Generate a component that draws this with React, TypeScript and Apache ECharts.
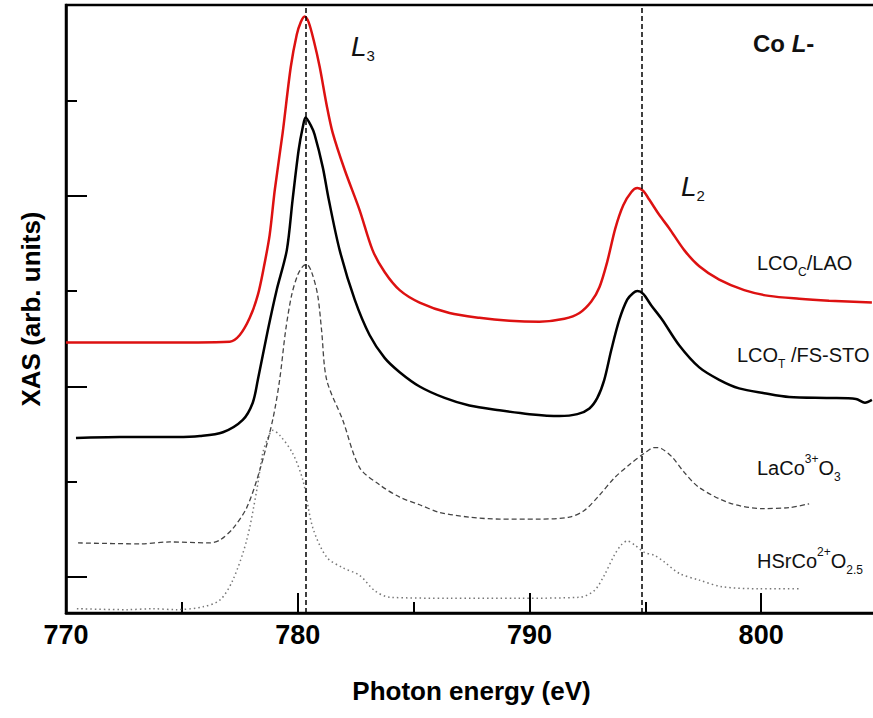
import React, { useEffect, useRef } from "react";
import * as echarts from "echarts";

// Photon energy (eV) and XAS intensity (arb. units, offset stacked)
const energyLCOC = [770.0, 773.62, 777.07, 777.5, 777.93, 778.28, 778.53, 778.79, 779.01, 779.35, 779.7, 779.96, 780.13, 780.3, 780.47, 780.69, 780.95, 781.25, 781.51, 782.03, 782.67, 783.23, 783.75, 784.4, 785.26, 786.55, 787.84, 789.14, 790.43, 791.51, 792.16, 792.67, 793.02, 793.36, 793.71, 794.05, 794.4, 794.66, 794.91, 795.17, 795.6, 796.03, 796.68, 797.33, 798.19, 799.27, 800.34, 801.64, 802.93, 804.78];
const xasLCOC = [3.46, 3.46, 3.47, 3.54, 3.72, 3.96, 4.24, 4.59, 5.06, 5.66, 6.35, 6.69, 6.82, 6.88, 6.82, 6.63, 6.35, 5.95, 5.66, 5.27, 4.85, 4.43, 4.2, 4.01, 3.88, 3.77, 3.72, 3.69, 3.68, 3.71, 3.77, 3.89, 4.04, 4.31, 4.66, 4.9, 5.04, 5.08, 5.05, 4.96, 4.8, 4.66, 4.43, 4.26, 4.12, 4.01, 3.95, 3.92, 3.9, 3.88];

const energyLCOT = [770.43, 772.33, 774.78, 775.78, 776.77, 777.63, 778.06, 778.28, 778.71, 779.09, 779.53, 779.78, 780.04, 780.22, 780.34, 780.56, 780.73, 781.08, 781.34, 781.81, 782.46, 783.1, 783.75, 784.4, 785.26, 786.34, 787.41, 788.71, 790.0, 791.29, 792.07, 792.59, 792.93, 793.23, 793.53, 793.88, 794.22, 794.48, 794.66, 794.91, 795.26, 795.73, 796.47, 797.33, 798.19, 799.05, 800.13, 801.21, 802.93, 804.09, 804.48, 804.78];
const xasLCOT = [2.46, 2.47, 2.47, 2.48, 2.52, 2.65, 2.83, 3.07, 3.59, 4.01, 4.43, 4.96, 5.48, 5.72, 5.82, 5.74, 5.64, 5.3, 4.96, 4.43, 3.91, 3.54, 3.3, 3.15, 3.0, 2.88, 2.8, 2.75, 2.71, 2.69, 2.71, 2.77, 2.88, 3.07, 3.38, 3.7, 3.91, 3.98, 4.0, 3.97, 3.85, 3.7, 3.43, 3.2, 3.07, 2.98, 2.93, 2.89, 2.88, 2.87, 2.83, 2.86];

const energyLaCoO3 = [770.52, 773.19, 774.48, 776.21, 776.64, 777.2, 777.8, 778.36, 778.92, 779.22, 779.48, 779.74, 780.0, 780.22, 780.39, 780.6, 780.86, 781.03, 781.25, 781.94, 782.67, 783.53, 784.4, 785.26, 786.12, 787.41, 788.71, 790.43, 791.72, 792.37, 793.02, 793.66, 794.31, 794.96, 795.39, 795.69, 796.16, 796.68, 797.33, 798.62, 800.04, 801.21, 802.07];
const xasLaCoO3 = [1.36, 1.35, 1.37, 1.36, 1.39, 1.51, 1.73, 2.12, 2.65, 3.07, 3.59, 3.96, 4.17, 4.26, 4.28, 4.2, 3.96, 3.59, 3.07, 2.65, 2.15, 1.97, 1.84, 1.76, 1.68, 1.63, 1.61, 1.61, 1.63, 1.7, 1.86, 2.04, 2.18, 2.3, 2.36, 2.35, 2.26, 2.1, 1.94, 1.78, 1.72, 1.73, 1.77];

const energyHSrCoO = [770.47, 772.63, 773.75, 774.78, 775.91, 776.64, 777.2, 777.8, 778.23, 778.49, 778.71, 778.92, 779.22, 779.78, 780.22, 780.65, 781.25, 781.94, 782.67, 783.32, 783.97, 786.55, 789.57, 792.16, 792.8, 793.23, 793.66, 793.97, 794.22, 794.53, 794.96, 795.39, 795.82, 796.47, 797.33, 798.32, 799.91, 801.64];
const xasHSrCoO = [0.67, 0.66, 0.67, 0.66, 0.69, 0.76, 0.97, 1.39, 1.91, 2.3, 2.46, 2.54, 2.49, 2.3, 2.02, 1.52, 1.21, 1.1, 1.02, 0.86, 0.79, 0.78, 0.78, 0.79, 0.86, 1.02, 1.23, 1.34, 1.38, 1.34, 1.26, 1.23, 1.16, 1.04, 0.97, 0.9, 0.88, 0.88];

// Edge positions (eV) marked by the vertical dashed lines
const edgeLines = [780.35, 794.85];

// Axis ranges
const xMin = 770;
const xMax = 805;
const xMajorStep = 10;
const xLastLabel = 800;
const yMin = 0.625;
const yMax = 7;
const yStep = 2;

const zip = (xs: number[], ys: number[]) => xs.map((x, i) => [x, ys[i]]);

const FONT = "'Liberation Sans', Arial, Helvetica, sans-serif";

export default function App() {
  const ref = useRef<HTMLDivElement>(null);

  useEffect(() => {
    if (!ref.current) return;
    const chart = echarts.init(ref.current, undefined, { renderer: "svg" });

    const labelRich = {
      a: { fontSize: 20, lineHeight: 30, verticalAlign: "middle", fontFamily: FONT, color: "#111" },
      s: { fontSize: 12, lineHeight: 12, verticalAlign: "bottom", fontFamily: FONT, color: "#111" },
      p: { fontSize: 12, lineHeight: 12, verticalAlign: "top", fontFamily: FONT, color: "#111" },
      b: { fontSize: 24, lineHeight: 30, verticalAlign: "middle", fontFamily: FONT, fontWeight: "bold", color: "#111" },
      bi: { fontSize: 24, lineHeight: 30, verticalAlign: "middle", fontFamily: FONT, fontWeight: "bold", fontStyle: "italic", color: "#111" },
      L: { fontSize: 28, lineHeight: 34, verticalAlign: "middle", fontFamily: FONT, fontStyle: "italic", color: "#111" },
      Ls: { fontSize: 15, lineHeight: 15, verticalAlign: "bottom", fontFamily: FONT, color: "#111" },
    };

    const textEl = (x: number, y: number, text: string) => ({
      type: "text",
      x,
      y,
      silent: true,
      style: { text, rich: labelRich, verticalAlign: "middle", align: "left", fontFamily: FONT, fill: "#111" },
    });

    const option: any = {
      animation: false,
      grid: {
        left: 66,
        top: 5,
        right: 2,
        bottom: 105,
        show: true,
        borderColor: "#000",
        borderWidth: 2.5,
        backgroundColor: "transparent",
      },
      xAxis: [
        {
          type: "value",
          position: "bottom",
          min: xMin,
          max: xMax,
          interval: xMajorStep,
          name: "Photon energy (eV)",
          nameLocation: "middle",
          nameGap: 65,
          nameTextStyle: { fontSize: 26, fontWeight: "bold", fontFamily: FONT, color: "#000" },
          axisLine: { show: true, onZero: false, lineStyle: { color: "#000", width: 2.5 } },
          axisTick: { show: true, inside: true, length: 20, lineStyle: { color: "#000", width: 2 } },
          axisLabel: {
            show: true,
            margin: 8,
            fontSize: 27,
            fontWeight: "bold",
            fontFamily: "'Liberation Sans Narrow', 'Liberation Sans', Arial, sans-serif",
            color: "#000",
            formatter: (v: number) => (v % xMajorStep === 0 && v <= xLastLabel ? String(v) : ""),
          },
          splitLine: { show: false },
        },
        {
          type: "value",
          position: "bottom",
          min: xMin - 5,
          max: xMax - 5,
          minInterval: xMajorStep,
          maxInterval: xMajorStep,
          axisLine: { show: false, onZero: false },
          axisTick: { show: true, inside: true, length: 11, lineStyle: { color: "#000", width: 2 } },
          axisLabel: { show: false },
          splitLine: { show: false },
        },
      ],
      yAxis: [
        {
          type: "value",
          position: "left",
          min: yMin,
          max: yMax,
          minInterval: yStep,
          maxInterval: yStep,
          axisLine: { show: false, onZero: false },
          axisTick: { show: true, inside: true, length: 11, lineStyle: { color: "#000", width: 2 } },
          axisLabel: { show: false },
          splitLine: { show: false },
        },
        {
          type: "value",
          position: "left",
          min: yMin + 1,
          max: yMax + 1,
          minInterval: yStep,
          maxInterval: yStep,
          name: "XAS (arb. units)",
          nameLocation: "middle",
          nameGap: 22,
          nameTextStyle: { fontSize: 26, fontWeight: "bold", fontFamily: FONT, color: "#000" },
          axisLine: { show: true, onZero: false, lineStyle: { color: "#000", width: 2.5 } },
          axisTick: { show: true, inside: true, length: 21, lineStyle: { color: "#000", width: 2 } },
          axisLabel: { show: false },
          splitLine: { show: false },
        },
      ],
      series: [
        {
          name: "HSrCo2+O2.5",
          type: "line",
          xAxisIndex: 0,
          yAxisIndex: 0,
          data: zip(energyHSrCoO, xasHSrCoO),
          showSymbol: false,
          symbol: "none",
          smooth: 0.3,
          silent: true,
          lineStyle: { color: "#777", width: 1.5, type: [1.5, 3] },
          z: 2,
        },
        {
          name: "LaCo3+O3",
          type: "line",
          xAxisIndex: 0,
          yAxisIndex: 0,
          data: zip(energyLaCoO3, xasLaCoO3),
          showSymbol: false,
          symbol: "none",
          smooth: 0.3,
          silent: true,
          lineStyle: { color: "#444", width: 1.3, type: [5, 3] },
          z: 2,
        },
        {
          name: "LCOT/FS-STO",
          type: "line",
          xAxisIndex: 0,
          yAxisIndex: 0,
          data: zip(energyLCOT, xasLCOT),
          showSymbol: false,
          symbol: "none",
          smooth: 0.3,
          silent: true,
          lineStyle: { color: "#000", width: 2.5 },
          z: 3,
          markLine: {
            silent: true,
            symbol: ["none", "none"],
            label: { show: false },
            lineStyle: { color: "#000", width: 1.5, type: [5, 3] },
            data: edgeLines.map((e) => ({ xAxis: e })),
          },
        },
        {
          name: "LCOC/LAO",
          type: "line",
          xAxisIndex: 0,
          yAxisIndex: 0,
          data: zip(energyLCOC, xasLCOC),
          showSymbol: false,
          symbol: "none",
          smooth: 0.3,
          silent: true,
          lineStyle: { color: "#dd1111", width: 2.5 },
          z: 4,
        },
      ],
      graphic: [
        textEl(753, 43, "{b|Co }{bi|L}{b|-}"),
        textEl(351, 46, "{L|L}{Ls|3}"),
        textEl(681, 186, "{L|L}{Ls|2}"),
        textEl(757, 263, "{a|LCO}{s|C}{a|/LAO}"),
        textEl(737, 355, "{a|LCO}{s|T}{a| /FS-STO}"),
        textEl(757, 468, "{a|LaCo}{p|3+}{a|O}{s|3}"),
        textEl(757, 561, "{a|HSrCo}{p|2+}{a|O}{s|2.5}"),
      ],
    };

    chart.setOption(option);
    return () => chart.dispose();
  }, []);

  return (
    <div
      style={{ position: "absolute", left: 0, top: 0, width: 873, height: 718, overflow: "hidden", background: "#fff" }}
    >
      <div ref={ref} style={{ width: 880, height: 718 }} />
    </div>
  );
}
